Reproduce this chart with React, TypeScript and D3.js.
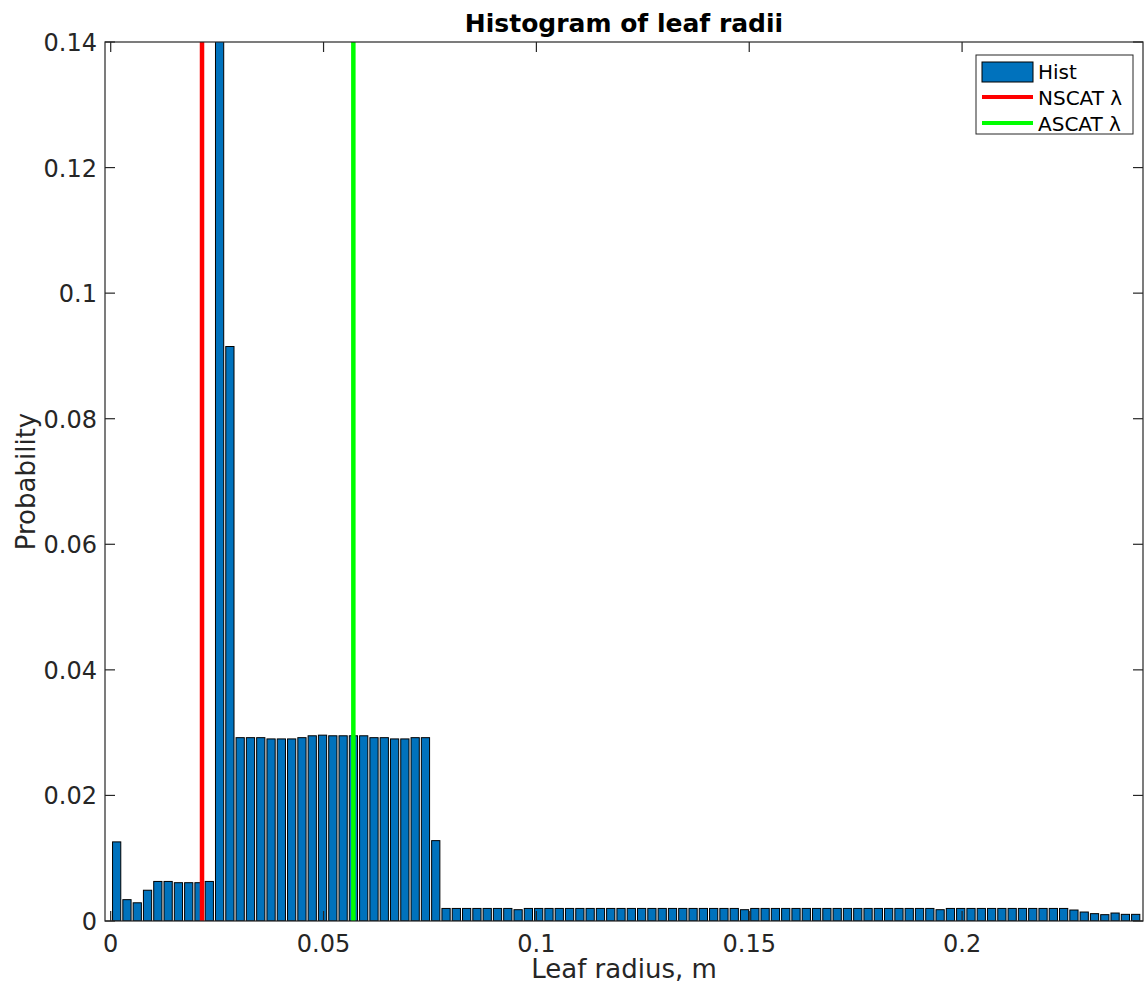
import React, { useEffect, useRef } from 'react';
import * as d3 from 'd3';

const WIDTH = 1144;
const HEIGHT = 994;

// histogram bins (bar centres are firstCenter + k * binWidth)
const binWidth = 0.002418;
const firstCenter = 0.0014;
const probabilities = [
  0.0126, 0.0034, 0.0029, 0.0049, 0.0063, 0.0063, 0.0061, 0.0061, 0.0061, 0.0063,
  0.16, 0.0915, 0.0292, 0.0292, 0.0292, 0.029, 0.029, 0.029, 0.0292, 0.0295,
  0.0296, 0.0295, 0.0295, 0.0295, 0.0295, 0.0292, 0.0292, 0.029, 0.029, 0.0292,
  0.0292, 0.0128, 0.002, 0.002, 0.002, 0.002, 0.002, 0.002, 0.002, 0.0018,
  0.002, 0.002, 0.002, 0.002, 0.002, 0.002, 0.002, 0.002, 0.002, 0.002,
  0.002, 0.002, 0.002, 0.002, 0.002, 0.002, 0.002, 0.002, 0.002, 0.002,
  0.002, 0.0018, 0.002, 0.002, 0.002, 0.002, 0.002, 0.002, 0.002, 0.002,
  0.002, 0.002, 0.002, 0.002, 0.002, 0.002, 0.002, 0.002, 0.002, 0.002,
  0.0018, 0.002, 0.002, 0.002, 0.002, 0.002, 0.002, 0.002, 0.002, 0.002,
  0.002, 0.002, 0.002, 0.00175, 0.00143, 0.00117, 0.00101, 0.00127, 0.00106, 0.00106,
];

const nscatLambda = 0.02145;
const ascatLambda = 0.057;

const xTicks = [0, 0.05, 0.1, 0.15, 0.2];
const xTickLabels = ['0', '0.05', '0.1', '0.15', '0.2'];
const yTicks = [0, 0.02, 0.04, 0.06, 0.08, 0.1, 0.12, 0.14];
const yTickLabels = ['0', '0.02', '0.04', '0.06', '0.08', '0.1', '0.12', '0.14'];

const legendLabels = ['Hist', 'NSCAT \u03bb', 'ASCAT \u03bb'];

const FONT = '"DejaVu Sans", sans-serif';
const AXIS_COLOR = '#262626';
const BAR_COLOR = '#0072BD';

const LeafRadiiHistogram: React.FC = () => {
  const svgRef = useRef<SVGSVGElement>(null);

  useEffect(() => {
    if (!svgRef.current) return;

    const svg = d3.select(svgRef.current);
    svg.selectAll('*').remove();

    const left = 105;
    const right = 1143;
    const top = 42;
    const bottom = 921;
    const tickLen = 10;

    const x = d3.scaleLinear().domain([-0.00134, 0.2425]).range([left, right]);
    const y = d3.scaleLinear().domain([0, 0.14]).range([bottom, top]);

    const bins = probabilities.map((p, i) => ({ center: firstCenter + i * binWidth, p }));
    const barW = (x(binWidth) - x(0)) * 0.8;

    svg.append('defs')
      .append('clipPath')
      .attr('id', 'plot-clip')
      .append('rect')
      .attr('x', left)
      .attr('y', top)
      .attr('width', right - left)
      .attr('height', bottom - top);

    const plot = svg.append('g').attr('clip-path', 'url(#plot-clip)');

    // bars
    plot.selectAll('rect.bar')
      .data(bins)
      .enter()
      .append('rect')
      .attr('class', 'bar')
      .attr('x', d => x(d.center) - barW / 2)
      .attr('y', d => y(d.p))
      .attr('width', barW)
      .attr('height', d => y(0) - y(d.p))
      .style('fill', BAR_COLOR)
      .style('stroke', '#000')
      .style('stroke-width', 1);

    // lambda lines
    plot.append('line')
      .attr('x1', x(nscatLambda)).attr('x2', x(nscatLambda))
      .attr('y1', y(0)).attr('y2', y(0.14))
      .style('stroke', '#ff0000')
      .style('stroke-width', 4.5);

    plot.append('line')
      .attr('x1', x(ascatLambda)).attr('x2', x(ascatLambda))
      .attr('y1', y(0)).attr('y2', y(0.14))
      .style('stroke', '#00ff00')
      .style('stroke-width', 4.5);

    // axes box
    svg.append('rect')
      .attr('x', left)
      .attr('y', top)
      .attr('width', right - left)
      .attr('height', bottom - top)
      .style('fill', 'none')
      .style('stroke', AXIS_COLOR)
      .style('stroke-width', 1.2);

    const ticks = svg.append('g').style('stroke', AXIS_COLOR).style('stroke-width', 1.2);

    xTicks.forEach(t => {
      ticks.append('line').attr('x1', x(t)).attr('x2', x(t)).attr('y1', bottom).attr('y2', bottom - tickLen);
      ticks.append('line').attr('x1', x(t)).attr('x2', x(t)).attr('y1', top).attr('y2', top + tickLen);
    });
    yTicks.forEach(t => {
      ticks.append('line').attr('x1', left).attr('x2', left + tickLen).attr('y1', y(t)).attr('y2', y(t));
      ticks.append('line').attr('x1', right).attr('x2', right - tickLen).attr('y1', y(t)).attr('y2', y(t));
    });

    // tick labels
    svg.selectAll('text.xtick')
      .data(xTicks)
      .enter()
      .append('text')
      .attr('class', 'xtick')
      .attr('x', d => x(d))
      .attr('y', bottom + 31)
      .attr('text-anchor', 'middle')
      .style('font-family', FONT)
      .style('font-size', '24px')
      .style('fill', AXIS_COLOR)
      .text((_, i) => xTickLabels[i]);

    svg.selectAll('text.ytick')
      .data(yTicks)
      .enter()
      .append('text')
      .attr('class', 'ytick')
      .attr('x', left - 8)
      .attr('y', d => y(d) + 9)
      .attr('text-anchor', 'end')
      .style('font-family', FONT)
      .style('font-size', '24px')
      .style('fill', AXIS_COLOR)
      .text((_, i) => yTickLabels[i]);

    // title and axis labels
    svg.append('text')
      .attr('x', (left + right) / 2)
      .attr('y', 32)
      .attr('text-anchor', 'middle')
      .style('font-family', FONT)
      .style('font-size', '25px')
      .style('font-weight', 'bold')
      .style('fill', '#000')
      .text('Histogram of leaf radii');

    svg.append('text')
      .attr('x', (left + right) / 2)
      .attr('y', 978)
      .attr('text-anchor', 'middle')
      .style('font-family', FONT)
      .style('font-size', '26px')
      .style('fill', AXIS_COLOR)
      .text('Leaf radius, m');

    svg.append('text')
      .attr('transform', `translate(35,${(top + bottom) / 2}) rotate(-90)`)
      .attr('text-anchor', 'middle')
      .style('font-family', FONT)
      .style('font-size', '26px')
      .style('fill', AXIS_COLOR)
      .text('Probability');

    // legend
    const legend = svg.append('g').attr('transform', 'translate(976,55)');
    legend.append('rect')
      .attr('width', 157)
      .attr('height', 79)
      .style('fill', '#fff')
      .style('stroke', AXIS_COLOR)
      .style('stroke-width', 1);

    legend.append('rect')
      .attr('x', 6).attr('y', 7)
      .attr('width', 51).attr('height', 20)
      .style('fill', BAR_COLOR)
      .style('stroke', '#000')
      .style('stroke-width', 1);

    const lineColors = ['#ff0000', '#00ff00'];
    lineColors.forEach((c, i) => {
      legend.append('line')
        .attr('x1', 6).attr('x2', 57)
        .attr('y1', 42 + i * 26).attr('y2', 42 + i * 26)
        .style('stroke', c)
        .style('stroke-width', 4);
    });

    legendLabels.forEach((label, i) => {
      legend.append('text')
        .attr('x', 62)
        .attr('y', 17 + i * 26)
        .attr('dy', '0.36em')
        .style('font-family', FONT)
        .style('font-size', '20px')
        .style('fill', '#000')
        .text(label);
    });
  }, []);

  return (
    <svg
      ref={svgRef}
      width={WIDTH}
      height={HEIGHT}
      style={{ position: 'absolute', left: 0, top: 0, background: '#fff' }}
    />
  );
};

export default function App() {
  return <LeafRadiiHistogram />;
}
